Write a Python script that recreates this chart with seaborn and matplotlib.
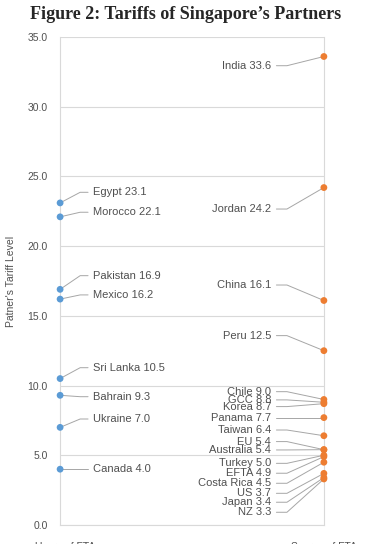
import matplotlib
matplotlib.use("Agg")
import matplotlib.pyplot as plt
import pandas as pd
import seaborn as sns

# left column (blue): partners that are users
left_names = ["Egypt", "Morocco", "Pakistan", "Mexico", "Sri Lanka",
              "Bahrain", "Ukraine", "Canada"]
left_values = [23.1, 22.1, 16.9, 16.2, 10.5, 9.3, 7.0, 4.0]
left_label_y = [23.86, 22.43, 17.88, 16.5, 11.28, 9.2, 7.6, 4.0]

# right column (orange): FTA partners
right_names = ["India", "Jordan", "China", "Peru", "Chile", "GCC", "Korea",
               "Panama", "Taiwan", "EU", "Australia", "Turkey", "EFTA",
               "Costa Rica", "US", "Japan", "NZ"]
right_values = [33.6, 24.2, 16.1, 12.5, 9.0, 8.8, 8.7, 7.7, 6.4, 5.4, 5.4,
                5.0, 4.9, 4.5, 3.7, 3.4, 3.3]
right_label_y = [32.94, 22.66, 17.21, 13.58, 9.56, 8.97, 8.49, 7.7, 6.81,
                 5.98, 5.38, 4.42, 3.71, 2.99, 2.27, 1.63, 0.91]

x_labels = ["Users of FTA", "Source of FTA"]
y_ticks = [0, 5, 10, 15, 20, 25, 30, 35]

BLUE = "#5B9BD5"
ORANGE = "#ED7D31"
GRAY_TXT = "#505050"
LEAD = "#A6A6A6"

df = pd.DataFrame({
    "x": [0] * len(left_values) + [1] * len(right_values),
    "tariff": left_values + right_values,
    "group": ["left"] * len(left_values) + ["right"] * len(right_values),
})

sns.set_style("white")
plt.rcParams["font.family"] = ["Liberation Sans", "DejaVu Sans"]

fig = plt.figure(figsize=(3.71, 5.44), dpi=100)
ax = fig.add_axes([0.162, 0.035, 0.711, 0.897])

sns.scatterplot(data=df, x="x", y="tariff", hue="group",
                palette={"left": BLUE, "right": ORANGE}, s=24,
                edgecolor="none", legend=False, ax=ax, clip_on=False,
                zorder=4)

for v, ly, name in zip(left_values, left_label_y, left_names):
    ax.plot([0, 0.076, 0.106], [v, ly, ly], color=LEAD, lw=0.7,
            clip_on=False, zorder=3)
    ax.text(0.125, ly, f"{name} {v:.1f}", ha="left", va="center",
            fontsize=8, color=GRAY_TXT)

for v, ly, name in zip(right_values, right_label_y, right_names):
    ax.plot([0.82, 0.86, 1.0], [ly, ly, v], color=LEAD, lw=0.7,
            clip_on=False, zorder=3)
    ax.text(0.80, ly, f"{name} {v:.1f}", ha="right", va="center",
            fontsize=8, color=GRAY_TXT)

ax.set_xlim(0, 1)
ax.set_ylim(0, 35)
ax.set_yticks(y_ticks)
ax.set_yticklabels([f"{t:.1f}" for t in y_ticks], fontsize=7.5,
                   color=GRAY_TXT)
ax.set_xticks([0.02, 1.0])
ax.set_xticklabels(x_labels, fontsize=7.5, color=GRAY_TXT)
ax.tick_params(axis="both", length=0, pad=9)
ax.tick_params(axis="x", pad=12)
ax.yaxis.grid(True, color="#D9D9D9", lw=0.8)
ax.set_axisbelow(True)
for side in ["left", "right", "bottom"]:
    ax.spines[side].set_color("#D9D9D9")
    ax.spines[side].set_linewidth(0.8)
ax.spines["top"].set_visible(False)

ax.set_xlabel("")
ax.set_ylabel("Patner's Tariff Level", fontsize=7.5, color=GRAY_TXT,
              labelpad=8)

fig.text(0.5, 0.974, "Figure 2: Tariffs of Singapore\u2019s Partners",
         ha="center", va="center", fontsize=13, fontweight="bold",
         family=["Liberation Serif", "DejaVu Serif"])

fig.savefig("out.png", dpi=100)
